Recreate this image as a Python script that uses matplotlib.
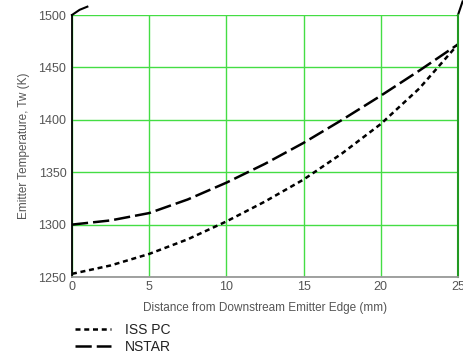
import numpy as np
import matplotlib.pyplot as plt

plt.rcParams['font.family'] = ['Liberation Sans', 'DejaVu Sans']

# distance from downstream emitter edge (mm)
dist = [0, 2.5, 5, 7.5, 10, 12.5, 15, 17.5, 20, 22.5, 25]
iss_pc = [1253, 1261, 1272, 1286, 1303, 1322, 1343, 1368, 1396, 1430, 1472]
nstar = [1300, 1304, 1311, 1324, 1340, 1358, 1378, 1400, 1423, 1447, 1472]

# off-scale traces poking over the top of the plot
edge_x = [0, 0.5, 1.0]
edge_y = [1500, 1505, 1508]
edge_x2 = [25, 25.3]
edge_y2 = [1500, 1513]

xticks = [0, 5, 10, 15, 20, 25]
yticks = [1250, 1300, 1350, 1400, 1450, 1500]

gray = '#555555'
green = '#44dd44'

fig = plt.figure(figsize=(4.64, 3.54), dpi=100)
ax = fig.add_axes([0.155, 0.2175, 0.832, 0.74])

ax.set_xlim(0, 25)
ax.set_ylim(1250, 1500)
ax.set_xticks(xticks)
ax.set_yticks(yticks)
ax.grid(True, color=green, linewidth=1.0)
ax.set_axisbelow(True)

l1, = ax.plot(dist, iss_pc, color='black', linewidth=1.8, dashes=(2.0, 1.5),
              label='ISS PC')
l2, = ax.plot(dist, nstar, color='black', linewidth=1.8, dashes=(6.5, 2.0),
              label='NSTAR')
ax.plot(edge_x, edge_y, color='black', linewidth=1.5, clip_on=False)
ax.plot(edge_x2, edge_y2, color='black', linewidth=1.5, clip_on=False)

for s in ['top', 'right']:
    ax.spines[s].set_visible(False)
ax.spines['left'].set_color('black')
ax.spines['left'].set_linewidth(1.3)
ax.spines['bottom'].set_color('#999999')
ax.spines['bottom'].set_linewidth(1.3)
ax.axvline(25, color='#229922', linewidth=1.5, clip_on=False)

ax.tick_params(length=0, labelsize=9, colors=gray, pad=4)
ax.tick_params(axis='x', pad=3)
ax.set_xlabel('Distance from Downstream Emitter Edge (mm)', fontsize=8.5,
              color=gray, labelpad=2)
ax.xaxis.set_label_coords(0.5, -0.095)
ax.set_ylabel('Emitter Temperature, Tw (K)', fontsize=8.5, color=gray,
              labelpad=6)

fig.legend(handles=[l1, l2], loc='upper left', bbox_to_anchor=(0.135, 0.122),
           frameon=False, fontsize=10, handlelength=2.6, handletextpad=1.0,
           labelspacing=0.2, labelcolor='#222222')

plt.savefig('out.png', dpi=100)
